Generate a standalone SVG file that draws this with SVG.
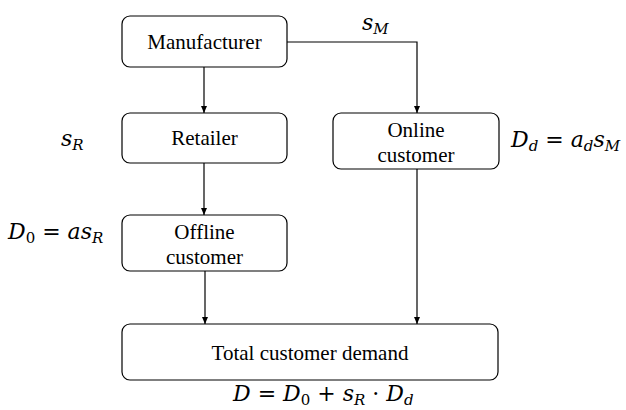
<svg xmlns="http://www.w3.org/2000/svg" width="626" height="410" viewBox="0 0 626 410">
<style>
.box{fill:#fff;stroke:#000;stroke-width:1.2}
.lbl{font-family:"Liberation Serif","Times New Roman",serif;font-size:21px;fill:#000;text-anchor:middle}
.m{font-family:"DejaVu Serif","Liberation Serif",serif;font-style:italic;font-size:22px;fill:#000}
.n{font-style:normal}
.sub{font-size:15px}
.ln{fill:none;stroke:#000;stroke-width:1.2}
</style>
<defs>
<marker id="ah" markerWidth="8" markerHeight="8" refX="7" refY="4" orient="auto" markerUnits="userSpaceOnUse">
<path d="M0,1 L7,4 L0,7 Z" fill="#000"/>
</marker>
</defs>
<rect width="626" height="410" fill="#fff"/>
<g id="connectors">
<path class="ln" d="M204,67 V113" marker-end="url(#ah)"/>
<path class="ln" d="M287,42 H417 V113" marker-end="url(#ah)"/>
<path class="ln" d="M204,163 V215" marker-end="url(#ah)"/>
<path class="ln" d="M205,271 V324" marker-end="url(#ah)"/>
<path class="ln" d="M417,169 V324" marker-end="url(#ah)"/>
</g>
<g id="manufacturer">
<rect class="box" x="122" y="16" width="165" height="51" rx="8"/>
<text class="lbl" x="204.5" y="49">Manufacturer</text>
</g>
<g id="retailer">
<rect class="box" x="122" y="113" width="165" height="50" rx="8"/>
<text class="lbl" x="204.5" y="145">Retailer</text>
</g>
<g id="online">
<rect class="box" x="333" y="113" width="166" height="56" rx="8"/>
<text class="lbl" x="416" y="137">Online</text>
<text class="lbl" x="416" y="162">customer</text>
</g>
<g id="offline">
<rect class="box" x="122" y="215" width="165" height="56" rx="8"/>
<text class="lbl" x="204.5" y="239">Offline</text>
<text class="lbl" x="204.5" y="264">customer</text>
</g>
<g id="total">
<rect class="box" x="122" y="324" width="376" height="56" rx="8"/>
<text class="lbl" x="310" y="360">Total customer demand</text>
</g>
<g id="labels">
<text class="m" x="362" y="30">s<tspan class="sub" dy="4">M</tspan></text>
<text class="m" x="61" y="146">s<tspan class="sub" dy="4">R</tspan></text>
<text class="m" x="511" y="147">D<tspan class="sub" dy="4">d</tspan><tspan dy="-4" class="n"> = </tspan>a<tspan class="sub" dy="4">d</tspan><tspan dy="-4">s</tspan><tspan class="sub" dy="4">M</tspan></text>
<text class="m" x="8" y="239">D<tspan class="sub n" dy="4">0</tspan><tspan dy="-4" class="n"> = </tspan>as<tspan class="sub" dy="4">R</tspan></text>
<text class="m" x="233" y="401">D<tspan class="n"> = </tspan>D<tspan class="sub n" dy="4">0</tspan><tspan dy="-4" class="n"> + </tspan>s<tspan class="sub" dy="4">R</tspan><tspan dy="-4" class="n"> · </tspan>D<tspan class="sub" dy="4">d</tspan></text>
</g>
</svg>
